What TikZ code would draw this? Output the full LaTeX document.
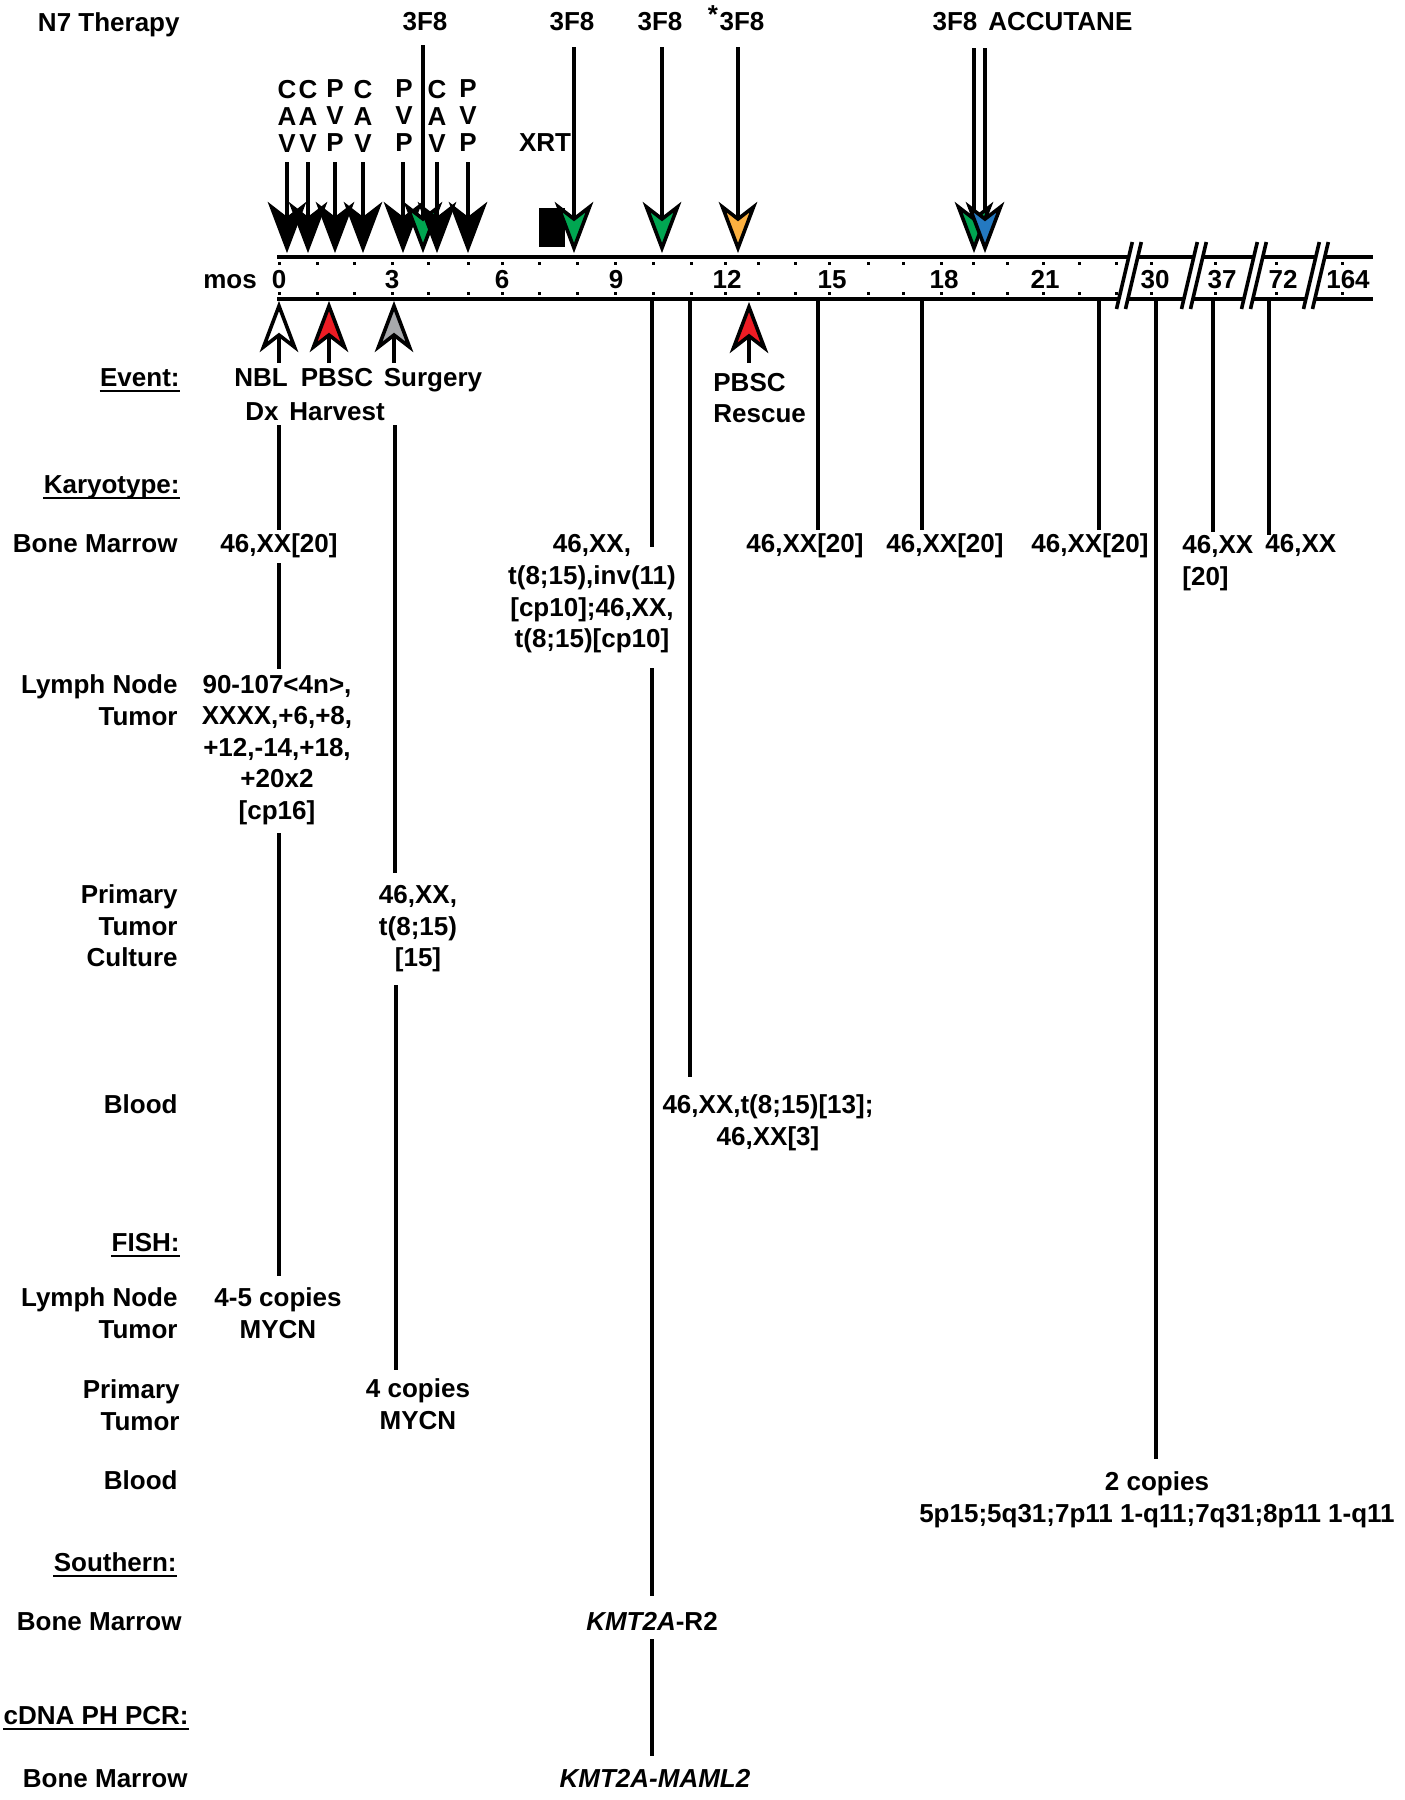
\documentclass[tikz,border=0pt]{standalone}
\usepackage{fontspec}
\setmainfont{Liberation Sans}
\definecolor{agreen}{HTML}{00A651}
\definecolor{aorange}{HTML}{FBB040}
\definecolor{ablue}{HTML}{2479C1}
\definecolor{ared}{HTML}{ED1C24}
\definecolor{agray}{HTML}{A7A9AC}
\newcommand\myfs{\fontsize{13}{15.8}\selectfont\bfseries}
\newcommand\dnhead[3]{\filldraw[head,fill=#3] (#1,#2) -- ++(-15.5,-41) -- ++(15.5,12) -- ++(15.5,-12) -- cycle;}
\newcommand\uphead[3]{\filldraw[head,fill=#3] (#1,#2) -- ++(-15.5,41) -- ++(15.5,-12) -- ++(15.5,12) -- cycle;}
\begin{document}
\begin{tikzpicture}[x=0.5pt,y=-0.5pt,
  txt/.style={font=\myfs,inner sep=0pt,align=center},
  sl/.style={text height=0.88em,text depth=0pt},
  lab/.style={txt,align=right,anchor=east},
  col/.style={inner sep=0pt,align=center,font={\fontsize{13}{13.5}\selectfont\bfseries}},
  vline/.style={line width=1.65pt},
  stem/.style={line width=1.65pt},
  tline/.style={line width=2.1pt},
  uline/.style={line width=1.2pt},
  slash/.style={line width=1.8pt},
  head/.style={draw=black,line width=1.8pt,line join=miter,miter limit=10}]
\useasboundingbox (0,0) rectangle (1404,1800);

% ---------------- left labels ----------------
\node[lab,sl] (n7) at (180,23) {N7 Therapy};
\node[txt,sl] (mos) at (230,280) {mos};
\node[lab,sl] (ev) at (180,378) {Event:};
\node[lab,sl] (ky) at (180,485) {Karyotype:};
\node[lab,sl] (kbm) at (178,544) {Bone Marrow};
\node[lab] (kln) at (178,700) {Lymph Node\\Tumor};
\node[lab] (kpt) at (178,926) {Primary\\Tumor\\Culture};
\node[lab,sl] (kbl) at (178,1105) {Blood};
\node[lab,sl] (fi) at (180,1243) {FISH:};
\node[lab] (fln) at (178,1313) {Lymph Node\\Tumor};
\node[lab] (fpt) at (180,1405) {Primary\\Tumor};
\node[lab,sl] (fbl) at (178,1481) {Blood};
\node[lab,sl] (so) at (177,1563) {Southern:};
\node[lab,sl] (sbm) at (182,1622) {Bone Marrow};
\node[lab,sl] (cd) at (189,1716) {cDNA PH PCR:};
\node[lab,sl] (cbm) at (188,1779) {Bone Marrow};
\foreach \n in {ev,ky,fi,so,cd}
  \draw[uline] ([yshift=-2pt]\n.base west) -- ([yshift=-2pt]\n.base east);

% ---------------- timeline band ----------------
\draw[tline] (277,257) -- (1373,257);
\draw[tline] (277,299) -- (1373,299);
\foreach \x in {279,317,354,392,428,468,502,539,577,615,653,691,725,758,795,829,868,903,941,973,1007,1043,1079,1116,1151,1215,1276,1342}{
  \fill (\x-1.5,261.5) rectangle ++(3,3);
  \fill (\x-1.5,291.5) rectangle ++(3,3);
}
\foreach \t/\x in {0/279,3/392,6/502,9/616,12/727,15/832,18/944,21/1045,30/1155,37/1222,72/1283,164/1348}
  \node[txt,sl] (m\t) at (\x,280) {\t};
\foreach \c in {1129,1194,1254,1316}{
  \fill[white] (\c-11.5,306) -- (\c-2.5,306) -- (\c+10.5,250) -- (\c+1.5,250) -- cycle;
  \draw[slash] (\c-12.5,309) -- (\c+3.3,242);
  \draw[slash] (\c-3.5,309) -- (\c+12.3,242);
}

% ---------------- therapy (top) ----------------
\foreach \x/\t in {287/{C\\A\\V},308/{C\\A\\V},335/{P\\V\\P},363/{C\\A\\V},404/{P\\V\\P},437/{C\\A\\V},468/{P\\V\\P}}{
  \node[col] at (\x,116) {\t};
}
\foreach \x in {287,308,335,363,403,437,468}
  \draw[stem] (\x,162) -- (\x,220);
\node[txt,sl] (f1) at (425,22) {3F8};
\node[txt,sl] (f2) at (572,22) {3F8};
\node[txt,sl] (f3) at (660,22) {3F8};
\node[txt,sl] (f4) at (742,22) {3F8};
\node[txt,sl] (ast) at (713,15) {*};
\node[txt,sl] (f5) at (955,22) {3F8};
\node[txt,sl,anchor=west] (acc) at (988,22) {ACCUTANE};
\node[txt,sl] (xrt) at (545,143) {XRT};
\draw[stem] (423,45) -- (423,220);
\draw[stem] (574,47) -- (574,220);
\draw[stem] (662,47) -- (662,220);
\draw[stem] (738,47) -- (738,220);
\draw[stem] (974,48) -- (974,220);
\draw[stem] (985,48) -- (985,220);
\fill (539,208) rectangle (565,247);
\dnhead{287}{248}{black}
\dnhead{308}{248}{black}
\dnhead{335}{248}{black}
\dnhead{363}{248}{black}
\dnhead{403}{248}{black}
\dnhead{423}{248}{agreen}
\dnhead{437}{248}{black}
\dnhead{468}{248}{black}
\dnhead{574}{248}{agreen}
\dnhead{662}{248}{agreen}
\dnhead{738}{248}{aorange}
\dnhead{974}{248}{agreen}
\dnhead{985}{248}{ablue}

% ---------------- events (below) ----------------
\foreach \x in {279,329,394,749}
  \draw[stem] (\x,334) -- (\x,363);
\uphead{279}{306}{white}
\uphead{329}{306}{ared}
\uphead{394}{306}{agray}
\uphead{749}{307}{ared}
\node[txt,sl] (nbl) at (261,378) {NBL};
\node[txt,sl] (dx) at (262,412) {Dx};
\node[txt,sl] (pbsc) at (337,378) {PBSC};
\node[txt,sl] (harv) at (337,412) {Harvest};
\node[txt,sl] (surg) at (433,378) {Surgery};
\node[txt,align=left,anchor=west] (resc) at (713,398) {PBSC\\Rescue};

% ---------------- result texts ----------------
\node[txt,sl] (bm1) at (279,544) {46,XX[20]};
\node[txt] (ln1) at (277,750) {90-107<4n>,\\XXXX,+6,+8,\\+12,-14,+18,\\+20x2\\{[cp16]}};
\node[txt] (bm2) at (592,594) {46,XX,\\t(8;15),inv(11)\\{[cp10];46,XX,}\\t(8;15)[cp10]};
\node[txt,sl] (bm3) at (805,544) {46,XX[20]};
\node[txt,sl] (bm4) at (945,544) {46,XX[20]};
\node[txt,sl] (bm5) at (1090,544) {46,XX[20]};
\node[txt,align=left,anchor=west] (bm6) at (1182,563) {46,XX\\{[20]}};
\node[txt,sl,anchor=west] (bm7) at (1265,544) {46,XX};
\node[txt] (ptc) at (418,929) {46,XX,\\t(8;15)\\{[15]}};
\node[txt] (bl) at (768,1123) {46,XX,t(8;15)[13];\\46,XX[3]};
\node[txt] (fi1) at (278,1313) {4-5 copies\\MYCN};
\node[txt] (fi2) at (418,1404) {4 copies\\MYCN};
\node[txt] (fi3) at (1157,1500) {2 copies\\5p15;5q31;7p11 1-q11;7q31;8p11 1-q11};
\node[txt,sl] (km1) at (652,1622) {\itshape KMT2A\upshape -R2};
\node[txt,sl] (km2) at (655,1779) {\itshape KMT2A-MAML2};

% ---------------- vertical connectors ----------------
\draw[vline] (279,425) -- (279,530);
\draw[vline] (279,563) -- (279,669);
\draw[vline] (279,833) -- (279,1276);
\draw[vline] (395,425) -- (395,873);
\draw[vline] (396,985) -- (396,1370);
\draw[vline] (652,299) -- (652,547);
\draw[vline] (652,668) -- (652,1596);
\draw[vline] (652,1639) -- (652,1756);
\draw[vline] (690,299) -- (690,1077);
\draw[vline] (818,299) -- (818,530);
\draw[vline] (922,299) -- (922,530);
\draw[vline] (1099,299) -- (1099,530);
\draw[vline] (1156,299) -- (1156,1459);
\draw[vline] (1213,299) -- (1213,532);
\draw[vline] (1269,299) -- (1269,535);
\end{tikzpicture}
\end{document}
